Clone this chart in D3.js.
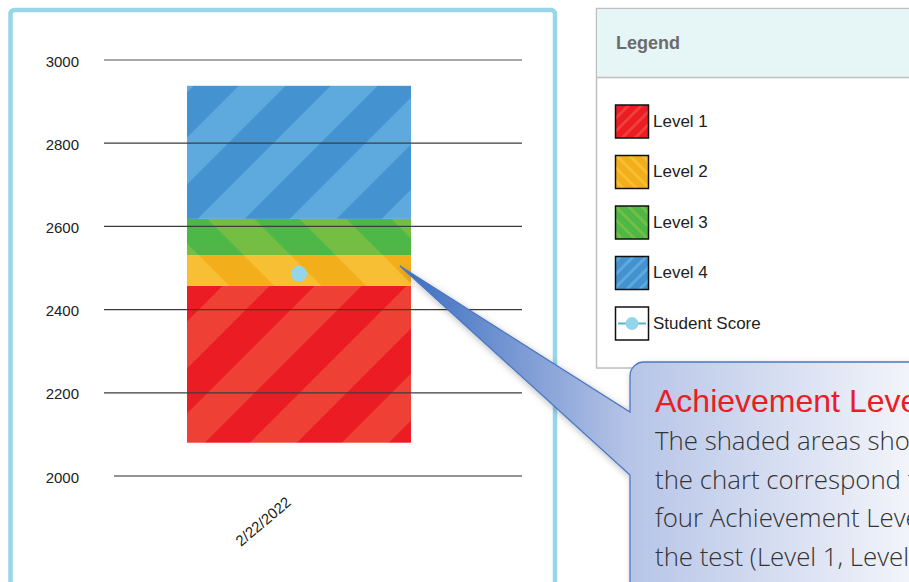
<!DOCTYPE html>
<html>
<head>
<meta charset="utf-8">
<script src="https://cdn.jsdelivr.net/npm/d3@7"></script>
<style>
  html, body { margin: 0; padding: 0; background: #fff; overflow: hidden; }
  svg { display: block; }
</style>
</head>
<body>
<script>
// ---- data ----
const testDates = ["2/22/2022"];
const levelNames = ["Level 1", "Level 2", "Level 3", "Level 4"];
const levelBounds = [2080, 2457, 2531, 2618, 2938];   // lower edge of L1 ... upper edge of L4
const studentScores = [2486];
const yTickValues = [2000, 2200, 2400, 2600, 2800, 3000];
const legendLabels = ["Level 1", "Level 2", "Level 3", "Level 4", "Student Score"];
const calloutTitle = "Achievement Levels";
const calloutLines = [
  "The shaded areas shown on",
  "the chart correspond to the",
  "four Achievement Levels for",
  "the test (Level 1, Level 2,"
];

// ---- styles ----
const levelColors = [
  { dark: "#ec1c24", light: "#ef4036", dir: 1 },
  { dark: "#f3ae1c", light: "#f7bf33", dir: -1 },
  { dark: "#4db848", light: "#74be44", dir: -1 },
  { dark: "#4592d0", light: "#5eaade", dir: 1 }
];

const W = 909, H = 582;
const svg = d3.select("body").append("svg").attr("width", W).attr("height", H);
const defs = svg.append("defs");

// stripe patterns for bars
function makePattern(id, c, tile, bandW, phase) {
  const p = defs.append("pattern").attr("id", id)
    .attr("patternUnits", "userSpaceOnUse")
    .attr("width", tile).attr("height", tile);
  p.append("rect").attr("width", tile).attr("height", tile).attr("fill", c.dark);
  const sw = bandW * Math.SQRT1_2;
  for (let k = -2; k <= 3; k++) {
    const cc = phase + k * tile;
    if (c.dir === 1) {
      p.append("line").attr("x1", cc + tile * 2).attr("y1", -tile * 2)
        .attr("x2", cc - tile * 2).attr("y2", tile * 2)
        .attr("stroke", c.light).attr("stroke-width", sw);
    } else {
      p.append("line").attr("x1", cc - tile * 2).attr("y1", -tile * 2)
        .attr("x2", cc + tile * 2).attr("y2", tile * 2)
        .attr("stroke", c.light).attr("stroke-width", sw);
    }
  }
}
levelColors.forEach((c, i) => {
  makePattern("bar" + i, c, 92, 47, c.dir === 1 ? 72 : 12);
  makePattern("sw" + i, c, 13, 4, 6);
});

// callout gradient
const grad = defs.append("linearGradient").attr("id", "callGrad")
  .attr("gradientUnits", "userSpaceOnUse")
  .attr("x1", 400).attr("y1", 0).attr("x2", 909).attr("y2", 0);
grad.append("stop").attr("offset", 0).attr("stop-color", "#3a6cbf");
grad.append("stop").attr("offset", 0.45).attr("stop-color", "#b6c4e7");
grad.append("stop").attr("offset", 1).attr("stop-color", "#f2f4fa");

const shadow = defs.append("filter").attr("id", "shadow")
  .attr("x", "-20%").attr("y", "-20%").attr("width", "140%").attr("height", "140%");
shadow.append("feDropShadow").attr("dx", 2).attr("dy", 3)
  .attr("stdDeviation", 3.5).attr("flood-color", "#000").attr("flood-opacity", 0.28);

// ---- left chart panel ----
svg.append("rect").attr("x", 10.5).attr("y", 10).attr("width", 544.5).attr("height", 620)
  .attr("rx", 4).attr("fill", "#fff").attr("stroke", "#97d6ea").attr("stroke-width", 4.5);

const y = d3.scaleLinear().domain([2000, 3000]).range([476, 60]);
const x = d3.scaleBand().domain(testDates).range([114, 484]).padding(0.2458);

// stacked level bands
const barG = svg.append("g");
testDates.forEach(dt => {
  levelNames.forEach((nm, i) => {
    barG.append("rect")
      .attr("x", x(dt)).attr("width", x.bandwidth())
      .attr("y", y(levelBounds[i + 1]))
      .attr("height", y(levelBounds[i]) - y(levelBounds[i + 1]))
      .attr("fill", `url(#bar${i})`);
  });
});

// gridlines (drawn over the bar)
const gridG = svg.append("g");
yTickValues.filter(v => v !== y.domain()[0]).forEach(v => {
  gridG.append("line")
    .attr("x1", 104).attr("x2", 522)
    .attr("y1", y(v)).attr("y2", y(v))
    .attr("stroke", v === y.domain()[1] ? "#8a8a8a" : "#3c3c3c")
    .attr("stroke-width", v === y.domain()[1] ? 1.7 : 1.2);
});
gridG.append("line").attr("x1", x.range()[0]).attr("x2", 522)
  .attr("y1", y(2000)).attr("y2", y(2000))
  .attr("stroke", "#2a2a2a").attr("stroke-width", 1.2);

// y tick labels
const yAxis = d3.axisLeft(y).tickValues(yTickValues).tickSize(0).tickPadding(0)
  .tickFormat(d3.format("d"));
const yAxisG = svg.append("g").attr("transform", "translate(79,0)").call(yAxis);
yAxisG.select(".domain").remove();
yAxisG.selectAll("text")
  .attr("font-family", "Liberation Sans, Arial, sans-serif")
  .attr("font-size", 15).attr("fill", "#222").attr("dy", "0.4em");

// student score dot
testDates.forEach((dt, i) => {
  svg.append("circle")
    .attr("cx", x(dt) + x.bandwidth() / 2)
    .attr("cy", y(studentScores[i]))
    .attr("r", 8).attr("fill", "#93d6ea");
});

// x label
const xAxis = d3.axisBottom(x).tickSize(0).tickPadding(0);
const xAxisG = svg.append("g").call(xAxis);
xAxisG.select(".domain").remove();
xAxisG.selectAll(".tick").attr("transform", null);
xAxisG.selectAll("text")
  .attr("font-family", "Liberation Sans, Arial, sans-serif")
  .attr("font-size", 15).attr("fill", "#222")
  .attr("text-anchor", "end").attr("dy", null).attr("y", null)
  .attr("transform", d => `translate(${x(d) + x.bandwidth() / 2 - 7},504) rotate(-40)`);

// ---- legend panel ----
const lg = svg.append("g");
lg.append("rect").attr("x", 596.5).attr("y", 8.5).attr("width", 400).attr("height", 359.5)
  .attr("fill", "#fff").attr("stroke", "#bfbfbf").attr("stroke-width", 1.5);
lg.append("rect").attr("x", 597.3).attr("y", 9.3).attr("width", 400).attr("height", 68)
  .attr("fill", "#e6f5f5");
lg.append("line").attr("x1", 596.5).attr("x2", 1000).attr("y1", 77.5).attr("y2", 77.5)
  .attr("stroke", "#bfbfbf").attr("stroke-width", 1.5);
lg.append("text").attr("x", 616).attr("y", 49)
  .attr("font-family", "Liberation Sans, Arial, sans-serif").attr("font-weight", "bold")
  .attr("font-size", 18).attr("fill", "#6b6b6b").text("Legend");

const legendY = d3.scalePoint().domain(legendLabels).range([121.5, 323.5]);
legendLabels.forEach((lab, i) => {
  const cy = legendY(lab);
  if (i < levelNames.length) {
    lg.append("rect").attr("x", 615.5).attr("y", cy - 16.5).attr("width", 33).attr("height", 33)
      .attr("fill", `url(#sw${i})`).attr("stroke", "#111").attr("stroke-width", 1.5);
  } else {
    lg.append("rect").attr("x", 615.5).attr("y", cy - 16.5).attr("width", 33).attr("height", 33)
      .attr("fill", "#fff").attr("stroke", "#111").attr("stroke-width", 1.5);
    lg.append("line").attr("x1", 618).attr("x2", 646).attr("y1", cy).attr("y2", cy)
      .attr("stroke", "#5ab4c4").attr("stroke-width", 2);
    lg.append("circle").attr("cx", 632).attr("cy", cy).attr("r", 6.5).attr("fill", "#93d6ea");
  }
  lg.append("text").attr("x", 653).attr("y", cy + 5)
    .attr("font-family", "Liberation Sans, Arial, sans-serif")
    .attr("font-size", 17).attr("fill", "#222").text(lab);
});

// ---- callout ----
const cg = svg.append("g");
cg.append("path")
  .attr("d", "M644,362 L940,362 L940,620 L630,620 L630,475 L400,266 L630,412 L630,376 A14,14 0 0 1 644,362 Z")
  .attr("fill", "url(#callGrad)").attr("stroke", "#4a78c4").attr("stroke-width", 1.3)
  .attr("filter", "url(#shadow)");
cg.append("text").attr("x", 655).attr("y", 412)
  .attr("font-family", "Liberation Sans, Arial, sans-serif")
  .attr("font-size", 32).attr("fill", "#ea1d25").text(calloutTitle);
calloutLines.forEach((ln, i) => {
  cg.append("text").attr("x", 655).attr("y", 450 + i * 38.5)
    .attr("font-family", "Open Sans, Liberation Sans, sans-serif")
    .attr("font-weight", 300)
    .attr("font-size", 25.8).attr("fill", "#333").text(ln);
});
</script>
</body>
</html>
